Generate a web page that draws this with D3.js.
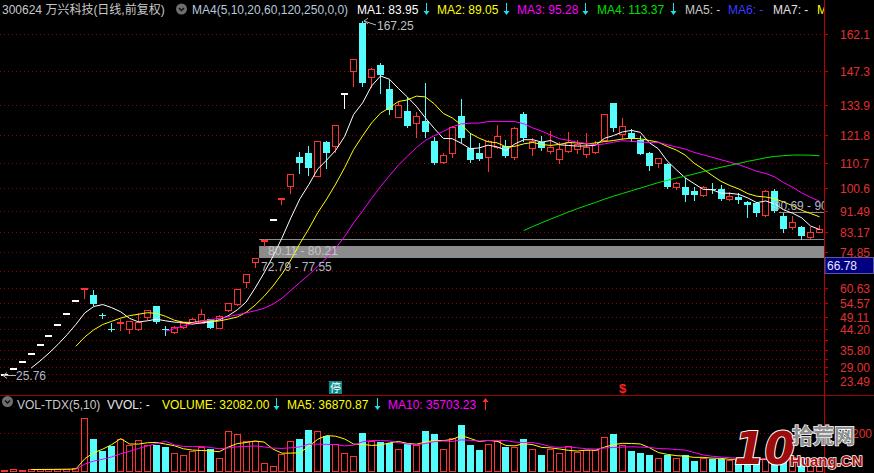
<!DOCTYPE html>
<html><head><meta charset="utf-8">
<script src="https://cdn.jsdelivr.net/npm/d3@7"></script>
<style>
body{margin:0;background:#000;overflow:hidden}
svg{display:block}
text{font-family:"Liberation Sans",Arial,"Noto Sans CJK SC",sans-serif;font-size:12px}
</style></head>
<body><svg id="c" width="874" height="473"></svg>
<script>
// ---- data (first bar is the off-screen listing day) ----
const opens = [23.42,
 25.76,28.34,31.17,34.29,37.72,41.49,45.64,50.20,55.22,60.40,
 57.8,49.7,44.3,46.7,44.1,44.1,49.2,53.4,44.1,43.2,
 44.9,46.9,46.8,48.1,44.8,51.8,54.2,63.1,70.8,79.80,
 87.87,96.0,101.4,113.1,114.4,105.4,119.1,117.4,138.3,147.3,
 166.5,145.0,149.7,140.1,129.1,131.3,126.4,127.4,119.4,111.1,
 114.5,129.4,116.4,114.45,112.85,116.85,117.35,112.85,130.15,116.45,
 119.1,115.5,112.2,115.5,116.05,114.15,115.1,119.75,134.4,122.0,
 122.65,119.6,114.7,110.7,110.15,100.85,100.85,99.5,97.8,100.2,
 100.05,96.05,97.1,95.1,94.45,89.8,99.5,89.4,85.1,84.9,
 81.1,83.1];
const highs = [23.42,
 25.76,28.34,31.17,34.29,37.72,41.49,45.64,50.20,55.22,60.74,
 59.8,50.6,46.6,48.2,47.6,50.8,52.0,53.6,45.6,45.5,
 46.6,48.6,52.2,48.3,49.8,54.6,60.02,66.02,72.79,80.11,
 87.87,96.66,106.33,115.1,117.4,119.24,119.5,125.8,138.3,152.1,
 167.25,148.6,150.6,143.7,135.3,137.05,131.1,142.4,121.1,114.6,
 125.4,136.0,122.4,118.4,119.9,125.75,119.75,125.0,131.1,120.45,
 121.35,123.35,119.1,123.1,119.75,122.65,119.5,130.2,134.6,128.4,
 124.0,121.35,115.0,112.6,110.5,103.0,104.45,100.85,101.2,102.45,
 101.75,99.1,98.5,95.5,95.0,99.8,100.0,90.69,89.4,85.4,
 84.9,85.8];
const lows = [23.42,
 25.76,28.34,31.17,34.29,37.72,41.49,45.64,50.20,55.22,56.6,
 54.0,48.5,43.6,43.8,42.5,44.0,48.1,46.5,41.8,42.8,
 44.5,46.5,46.5,44.5,44.6,51.6,54.0,61.1,69.1,77.55,
 87.87,94.3,98.7,106.4,105.8,105.4,108.4,115.1,132.4,141.4,
 141.4,141.0,138.4,130.0,129.0,125.0,121.1,121.1,110.0,110.5,
 112.8,119.1,111.0,111.7,107.5,116.4,113.0,112.0,119.5,113.75,
 115.8,114.45,110.45,115.0,114.7,112.85,114.5,119.5,123.5,120.2,
 119.5,114.0,107.8,109.05,100.5,100.0,95.5,95.8,97.5,98.7,
 95.8,95.8,94.45,89.1,89.5,89.5,90.95,83.1,84.1,80.21,
 80.5,82.8];
const closes = [23.42,
 25.76,28.34,31.17,34.29,37.72,41.49,45.64,50.20,55.22,60.74,
 54.3,49.5,44.0,47.0,47.5,47.2,51.8,47.2,43.8,44.9,
 46.5,48.4,50.2,44.8,49.6,54.56,60.02,66.02,72.62,79.88,
 87.87,96.66,106.33,110.4,108.4,119.24,114.4,125.75,138.3,152.1,
 142.4,148.1,145.7,131.7,133.7,125.4,129.5,122.8,110.5,113.75,
 124.8,120.5,111.75,112.05,119.35,121.35,113.5,124.65,120.45,119.35,
 116.45,116.85,116.05,119.1,118.05,116.85,118.15,130.0,124.6,125.2,
 120.0,114.15,109.4,112.45,100.85,102.7,97.8,97.8,101.1,99.9,
 96.05,97.4,95.6,93.9,90.6,99.45,91.2,84.1,87.1,81.4,
 83.1,84.05];
const volumes = [3000,
 4200,4500,4300,4800,5000,5200,5600,5900,7500,157500,
 93500,58100,72900,95600,77900,92600,77900,77900,70800,53100,
 48400,59000,70800,66100,39500,118000,109200,87600,88500,23600,
 13900,49300,88500,93500,120100,117100,103300,78800,53100,44300,
 113300,87600,85600,83800,66100,83800,75800,117100,108300,64000,
 98500,134800,75800,61100,80800,87600,70800,70800,93500,66100,
 46300,64000,54300,73800,56000,61100,61100,100300,110300,75800,
 58100,54300,46300,38400,48400,39500,46300,28600,38400,36600,
 36600,31600,32800,34000,33000,39500,33378,36000,40000,38272,
 38000,32082];

const priceTicks = [162.1,147.3,133.9,121.8,110.7,100.6,91.49,83.17,74.85,67.37,60.63,54.57,49.11,44.20,39.78,35.80,32.22,29.00,26.10,23.49];
const priceTickLabels = ["162.1","147.3","133.9","121.8","110.7","100.6","91.49","83.17","74.85","","60.63","54.57","49.11","44.20","","35.80","","29.00","","23.49"];
const volTicks = [111215];
const volTickLabels = ["111200"];

const maPeriods = [5,10,20,60];
const maHeaderValues = ["83.95","89.05","95.28","113.37"];
const volHeader = {volume:"32082.00", ma5:"36870.87", ma10:"35703.23"};

const gapLow  = [72.79, 80.11, 90.69];
const gapHigh = [77.55, 80.21, 90.95];
const gapStart = [30, 30, 88];          // bar index (incl. hidden first bar)
const stopBars = [38];                  // "停" marker
const divBars = [70];                   // "$" marker
const highLabel = "167.25", lowLabel = "25.76";
const cursorLabel = "66.78";

// ---- layout ----
const svg = d3.select("#c");
const W = 874, PR = 824;
const RED = "#ff3232", CYAN = "#54fcfc";
const N = closes.length;
const idx = d3.range(N);
const x = d3.scaleBand().domain(idx).range([-9.74, -9.74 + 8.96 * N]).paddingInner(0.22).paddingOuter(0.11);
const cxOf = k => Math.round(x(k) + x.bandwidth() / 2);
const y = d3.scaleLinear().domain([23.49, 162.1]).range([380.9, 34]);
const vy = d3.scaleLinear().domain([0, 111215]).range([471, 433.3]);

const defs = svg.append("defs");
defs.append("clipPath").attr("id","cp").append("rect").attr("x",0).attr("y",0).attr("width",PR).attr("height",394);
defs.append("clipPath").attr("id","cv").append("rect").attr("x",0).attr("y",404).attr("width",PR).attr("height",69);
defs.append("clipPath").attr("id","ch").append("rect").attr("x",0).attr("y",0).attr("width",PR).attr("height",20);

svg.append("rect").attr("width",W).attr("height",473).attr("fill","#000");

// gridlines
const grid = svg.append("g");
priceTicks.forEach(v => {
  const yy = Math.round(y(v)) + 0.5;
  grid.append("line").attr("x1",0).attr("x2",PR).attr("y1",yy).attr("y2",yy)
    .attr("stroke","#a00000").attr("stroke-dasharray","1,3");
});
volTicks.forEach(v => {
  const yy = Math.round(vy(v)) + 0.5;
  grid.append("line").attr("x1",0).attr("x2",PR).attr("y1",yy).attr("y2",yy)
    .attr("stroke","#a00000").attr("stroke-dasharray","1,3");
});

const gp = svg.append("g").attr("clip-path","url(#cp)");

// gaps
gapLow.forEach((lo, i) => {
  const y1 = Math.round(y(gapHigh[i])), y2 = Math.round(y(lo));
  const x0 = x(gapStart[i]) - 1;
  gp.append("rect").attr("x",x0).attr("y",y1).attr("width",PR - x0).attr("height",Math.max(1,y2-y1))
    .attr("fill","#8c8c8c");
});

// candles
idx.forEach(k => {
  const cx = cxOf(k);
  const o = opens[k], c = closes[k], h = highs[k], l = lows[k];
  const yo = Math.round(y(o)), yc = Math.round(y(c)), yh = Math.round(y(h)), yl = Math.round(y(l));
  if (o === c) {
    gp.append("line").attr("x1",cx+0.5).attr("x2",cx+0.5).attr("y1",yh).attr("y2",yl+1).attr("stroke","#fff");
    gp.append("rect").attr("x",cx-3).attr("y",yo-1).attr("width",7).attr("height",2).attr("fill","#fff");
  } else if (c > o) {
    const top = yc, bot = yo;
    gp.append("line").attr("x1",cx+0.5).attr("x2",cx+0.5).attr("y1",yh).attr("y2",top).attr("stroke",RED);
    gp.append("line").attr("x1",cx+0.5).attr("x2",cx+0.5).attr("y1",bot).attr("y2",yl+1).attr("stroke",RED);
    gp.append("rect").attr("x",cx-2.5).attr("y",top+0.5).attr("width",6).attr("height",Math.max(1,bot-top))
      .attr("fill","none").attr("stroke",RED);
  } else {
    const top = yo, bot = yc;
    gp.append("line").attr("x1",cx+0.5).attr("x2",cx+0.5).attr("y1",yh).attr("y2",yl+1).attr("stroke",CYAN);
    gp.append("rect").attr("x",cx-3).attr("y",top).attr("width",7).attr("height",Math.max(1,bot-top)).attr("fill",CYAN);
  }
});

// moving averages
function movingAvg(arr, n) { return arr.map((_, i) => i < n - 1 ? null : d3.mean(arr.slice(i - n + 1, i + 1))); }
const maColors = ["#ffffff","#ffff00","#ff00ff","#00e000"];
const lineP = d3.line().defined(d => d[1] != null).x(d => x(d[0]) + x.bandwidth()/2 + 0.5).y(d => y(d[1]));
maPeriods.forEach((n, j) => {
  const m = movingAvg(closes, n);
  gp.append("path").attr("d", lineP(idx.map(k => [k, m[k]]))).attr("fill","none").attr("stroke",maColors[j]).attr("stroke-width",1);
});

// gap labels
const gapLabelPos = [[1, 271], [8, 255], [-6, 209.5]];
gapLow.forEach((lo, i) => {
  gp.append("text").attr("x", x(gapStart[i]) + gapLabelPos[i][0]).attr("y", gapLabelPos[i][1])
    .attr("fill", i === 1 ? "#c4c4c4" : "#b0b8c4").text(lo.toFixed(2) + " - " + gapHigh[i].toFixed(2));
});

// high / low markers
function arrowMark(g, tx, ty, ex, ey) {
  g.append("path").attr("d",`M${tx},${ty}L${ex},${ey}M${tx},${ty}l4,-3M${tx},${ty}l4,3`).attr("stroke","#b8b8b8").attr("fill","none");
}
const hiK = d3.maxIndex(highs), loK = d3.minIndex(lows.slice(1)) + 1;
arrowMark(gp, cxOf(hiK) + 2, Math.round(y(highs[hiK])), cxOf(hiK) + 14, Math.round(y(highs[hiK])) + 4);
gp.append("text").attr("x", cxOf(hiK) + 15).attr("y", Math.round(y(highs[hiK])) + 9).attr("fill","#c0c0c0").text(highLabel);
arrowMark(gp, cxOf(loK) - 1, Math.round(y(lows[loK])) + 0.5, cxOf(loK) + 12, Math.round(y(lows[loK])) + 0.5);
gp.append("text").attr("x", cxOf(loK) + 12).attr("y", Math.round(y(lows[loK])) + 5).attr("fill","#b0b8c8").text(lowLabel);

// event markers
stopBars.forEach(k => {
  const cx = cxOf(k);
  svg.append("rect").attr("x",cx-6).attr("y",381).attr("width",13).attr("height",13).attr("fill","#0a8a8a");
  svg.append("text").attr("x",cx+0.5).attr("y",392).attr("text-anchor","middle").attr("fill","#fff")
    .style("font-size","11px").style("font-family","'Noto Sans CJK SC',sans-serif").text("停");
});
divBars.forEach(k => {
  const cx = cxOf(k);
  svg.append("text").attr("x",cx+0.5).attr("y",393).attr("text-anchor","middle").attr("fill","#ff2020")
    .style("font-size","13px").style("font-weight","bold").text("$");
});

// volume panel
const gv = svg.append("g").attr("clip-path","url(#cv)");
idx.forEach(k => {
  const cx = cxOf(k);
  const top = Math.round(vy(volumes[k])), base = 471;
  const up = closes[k] >= opens[k];
  if (up) {
    gv.append("rect").attr("x",cx-2.5).attr("y",Math.min(top,base-1)+0.5).attr("width",6).attr("height",Math.max(1,base-top))
      .attr("fill","none").attr("stroke",RED);
  } else {
    gv.append("rect").attr("x",cx-3).attr("y",top).attr("width",7).attr("height",Math.max(1,base-top+1)).attr("fill",CYAN);
  }
});
const vlineP = d3.line().defined(d => d[1] != null).x(d => x(d[0]) + x.bandwidth()/2 + 0.5).y(d => vy(d[1]));
[[5,"#ffff00"],[10,"#ff00ff"]].forEach(([n,col]) => {
  const m = movingAvg(volumes, n);
  gv.append("path").attr("d", vlineP(idx.map(k => [k, m[k]]))).attr("fill","none").attr("stroke",col);
});

// axis lines
svg.append("line").attr("x1",0).attr("x2",W).attr("y1",395.5).attr("y2",395.5).attr("stroke","#a00000");
svg.append("line").attr("x1",PR+0.5).attr("x2",PR+0.5).attr("y1",0).attr("y2",473).attr("stroke","#c00000");
priceTicks.forEach((v, i) => {
  const yy = Math.round(y(v)) + 0.5;
  svg.append("line").attr("x1",PR+1).attr("x2",PR+4).attr("y1",yy).attr("y2",yy).attr("stroke","#c00000");
  if (priceTickLabels[i]) svg.append("text").attr("x",840).attr("y",yy+4.5).attr("fill","#e03030").text(priceTickLabels[i]);
});
volTicks.forEach((v, i) => {
  const yy = Math.round(vy(v)) + 0.5;
  svg.append("line").attr("x1",PR+1).attr("x2",PR+4).attr("y1",yy).attr("y2",yy).attr("stroke","#c00000");
  svg.append("text").attr("x",872).attr("y",yy+4.5).attr("text-anchor","end").attr("fill","#e03030").text(volTickLabels[i]);
});

// cursor price box
svg.append("rect").attr("x",825).attr("y",257.5).attr("width",48.5).attr("height",16).attr("fill","#000080").attr("stroke","#5a5aa0");
svg.append("text").attr("x",827).attr("y",270).attr("fill","#e8e8ff").text(cursorLabel);

// headers
function icon(cx, cy) {
  svg.append("circle").attr("cx",cx).attr("cy",cy).attr("r",5.5).attr("fill","#6e6e6e");
  svg.append("path").attr("d",`M${cx-2.5},${cy-1}L${cx},${cy+1.5}L${cx+2.5},${cy-1}`).attr("stroke","#111").attr("stroke-width",1.5).attr("fill","none");
}
function arrow(g, ax, y0, y1, col, up) {
  if (!up) {
    g.append("line").attr("x1",ax).attr("x2",ax).attr("y1",y0).attr("y2",y1-3).attr("stroke",col);
    g.append("path").attr("d",`M${ax-3},${y1-4}L${ax+3},${y1-4}L${ax},${y1}Z`).attr("fill",col);
  } else {
    g.append("line").attr("x1",ax).attr("x2",ax).attr("y1",y0+3).attr("y2",y1).attr("stroke",col);
    g.append("path").attr("d",`M${ax-3},${y0+4}L${ax+3},${y0+4}L${ax},${y0}Z`).attr("fill",col);
  }
}
const gh = svg.append("g").attr("clip-path","url(#ch)");
gh.append("text").attr("x",2).attr("y",13.5).attr("fill","#c8c8c8").text("300624 万兴科技(日线,前复权)");
icon(181.5, 9);
gh.append("text").attr("x",192).attr("y",13.5).attr("fill","#b8c8dc").text("MA4(5,10,20,60,120,250,0,0)");
const maHeadX = [357, 437, 517, 597], maArrowX = [426.5, 506.5, 585.5, 673.5];
maHeaderValues.forEach((v, j) => {
  gh.append("text").attr("x",maHeadX[j]).attr("y",13.5).attr("fill",maColors[j]).text(`MA${j+1}: ${v}`);
  arrow(gh, maArrowX[j], 3, 15, "#20e0f0", false);
});
gh.append("text").attr("x",685).attr("y",13.5).attr("fill","#c8c8c8").text("MA5: -");
gh.append("text").attr("x",728).attr("y",13.5).attr("fill","#3c3cff").text("MA6: -");
gh.append("text").attr("x",773).attr("y",13.5).attr("fill","#e0e0e0").text("MA7: -");
gh.append("text").attr("x",817).attr("y",13.5).attr("fill","#ffff00").text("MA8: -");

icon(7.5, 401.5);
svg.append("text").attr("x",17).attr("y",408.5).attr("fill","#c8c8c8").text("VOL-TDX(5,10)");
svg.append("text").attr("x",107).attr("y",408.5).attr("fill","#e8e8e8").text("VVOL: -");
svg.append("text").attr("x",162).attr("y",408.5).attr("fill","#ffff00").text("VOLUME: " + volHeader.volume);
arrow(svg, 276.5, 398, 410, "#20e0f0", false);
svg.append("text").attr("x",287).attr("y",408.5).attr("fill","#ffff00").text("MA5: " + volHeader.ma5);
arrow(svg, 377.5, 398, 410, "#20e0f0", false);
svg.append("text").attr("x",388).attr("y",408.5).attr("fill","#ff00ff").text("MA10: " + volHeader.ma10);
arrow(svg, 485.5, 398, 410, "#ff3030", true);

// watermark
const wm = svg.append("g");
wm.append("text").attr("x",734).attr("y",464).attr("fill","#9e0b0b").attr("stroke","#fff").attr("stroke-width",2)
  .style("paint-order","stroke").style("font-family","'DejaVu Sans',sans-serif").style("font-size","44px").style("font-weight","bold").style("font-style","italic").text("10");
wm.append("text").attr("x",792).attr("y",443).attr("fill","#8e8e8e").attr("stroke","#fff").attr("stroke-width",1.5)
  .style("paint-order","stroke").style("font-family","'Noto Sans CJK SC',sans-serif").style("font-size","21px").style("font-weight","bold").text("拾荒网");
wm.append("text").attr("x",790).attr("y",466).attr("fill","#a81010").attr("stroke","#fff").attr("stroke-width",1.5)
  .style("paint-order","stroke").style("font-size","15px").style("font-weight","bold").text("Huang.CN");
</script></body></html>
